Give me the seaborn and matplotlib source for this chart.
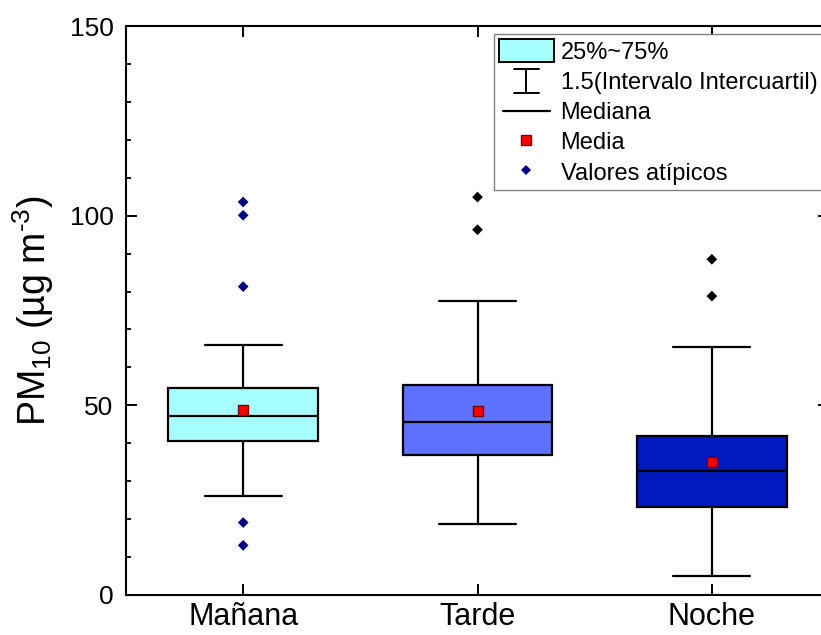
import numpy as np
import pandas as pd
import matplotlib
matplotlib.use('Agg')
import matplotlib.pyplot as plt
import seaborn as sns
from matplotlib.legend_handler import HandlerBase
from matplotlib.lines import Line2D
from matplotlib.patches import Patch
from matplotlib.transforms import IdentityTransform
from matplotlib.ticker import MultipleLocator

# ---- data ----
categories = ['Mañana', 'Tarde', 'Noche']
q1 = [40.5, 36.8, 23.3]
medians = [47.2, 45.6, 32.7]
q3 = [54.6, 55.4, 41.9]
whisk_lo = [26.1, 18.8, 5.1]
whisk_hi = [66.0, 77.6, 65.4]
means = [48.7, 48.5, 35.1]
outliers_manana = [103.6, 100.1, 81.3, 19.1, 13.1]
outliers_tarde = [104.9, 96.3]
outliers_noche = [88.5, 78.8]
box_colors = ['#A8FFFF', '#5F72FF', '#001AC0']
outlier_colors = ['#00007F', '#000000', '#000000']

sns.set_theme(style='ticks')
plt.rcParams['font.family'] = ['Liberation Sans', 'DejaVu Sans']
plt.rcParams['mathtext.fontset'] = 'custom'
plt.rcParams['mathtext.rm'] = 'Liberation Sans'
plt.rcParams['mathtext.it'] = 'Liberation Sans'
plt.rcParams['text.color'] = 'black'
plt.rcParams['axes.labelcolor'] = 'black'
plt.rcParams['xtick.color'] = 'black'
plt.rcParams['ytick.color'] = 'black'

W, H = 821, 635
fig = plt.figure(figsize=(W / 100, H / 100), dpi=100)
L, R, T, B = 126, 829, 26, 595
ax = fig.add_axes([L / W, 1 - B / H, (R - L) / W, (B - T) / H])

pos = list(range(len(categories)))
stats = []
for i, c in enumerate(categories):
    stats.append(dict(label=c, q1=q1[i], med=medians[i], q3=q3[i],
                      whislo=whisk_lo[i], whishi=whisk_hi[i], fliers=[]))
bp = ax.bxp(stats, positions=pos, widths=0.64, capwidths=0.33,
            patch_artist=True, showfliers=False,
            boxprops=dict(linewidth=1.6, edgecolor='black'),
            medianprops=dict(color='black', linewidth=1.6),
            whiskerprops=dict(color='black', linewidth=1.6),
            capprops=dict(color='black', linewidth=1.6))
for patch, col in zip(bp['boxes'], box_colors):
    patch.set_facecolor(col)

# outliers
out_lists = [outliers_manana, outliers_tarde, outliers_noche]
df_out = pd.DataFrame({
    'pos': [pos[i] for i, o in enumerate(out_lists) for _ in o],
    'value': [v for o in out_lists for v in o],
    'grupo': [categories[i] for i, o in enumerate(out_lists) for _ in o],
})
sns.scatterplot(data=df_out, x='pos', y='value', hue='grupo',
                palette=dict(zip(categories, outlier_colors)),
                marker='D', s=30, linewidth=0, legend=False, ax=ax, zorder=4)

# means
df_mean = pd.DataFrame({'pos': pos, 'mean': means})
sns.scatterplot(data=df_mean, x='pos', y='mean', marker='s', s=55,
                color='#FF0000', edgecolor='#7A0000', linewidth=1.0,
                legend=False, ax=ax, zorder=5)

ax.set_xlim(-0.5, 2.5)
ax.set_ylim(0, 150)
ax.set_xticks(pos)
ax.set_xticklabels(categories)
ax.yaxis.set_major_locator(MultipleLocator(50))
ax.yaxis.set_minor_locator(MultipleLocator(10))
ax.set_xlabel('')
ax.set_ylabel(r'PM$_{10}$ (µg m$^{\text{-}3}$)', fontsize=27, labelpad=10, color='black')

for sp in ax.spines.values():
    sp.set_visible(True)
    sp.set_linewidth(1.5)
    sp.set_color('black')
ax.tick_params(axis='both', which='major', direction='in', length=7.6, width=1.4,
               color='black', labelcolor='black', top=True, right=True)
ax.tick_params(axis='y', which='minor', direction='in', length=3.6, width=1.3,
               color='black', left=True, right=True)
ax.tick_params(axis='x', which='minor', bottom=False, top=False)
ax.tick_params(axis='y', which='major', labelsize=19, pad=9)
ax.tick_params(axis='x', which='major', labelsize=22, pad=5)


# ---- legend with custom handles ----
class Proxy:
    def __init__(self, kind):
        self.kind = kind


class ProxyHandler(HandlerBase):
    def create_artists(self, legend, orig_handle, xdescent, ydescent, width,
                       height, fontsize, trans):
        cx = width / 2 - xdescent
        cy = height / 2 - ydescent
        arts = []
        if orig_handle.kind == 'whisker':
            h = height * 1.05
            cw = 18
            arts.append(Line2D([cx, cx], [cy - h / 2, cy + h / 2], color='black', lw=1.4))
            arts.append(Line2D([cx - cw / 2, cx + cw / 2], [cy + h / 2, cy + h / 2], color='black', lw=1.4))
            arts.append(Line2D([cx - cw / 2, cx + cw / 2], [cy - h / 2, cy - h / 2], color='black', lw=1.4))
        elif orig_handle.kind == 'median':
            lw_ = 34
            arts.append(Line2D([cx - lw_ / 2, cx + lw_ / 2], [cy, cy], color='black', lw=1.6))
        for a in arts:
            a.set_transform(trans)
        return arts


handles = [
    Patch(facecolor=box_colors[0], edgecolor='black', linewidth=1.4),
    Proxy('whisker'),
    Proxy('median'),
    Line2D([], [], linestyle='none', marker='s', markersize=7.5,
           markerfacecolor='#FF0000', markeredgecolor='#7A0000', markeredgewidth=1.0),
    Line2D([], [], linestyle='none', marker='D', markersize=4.6,
           markerfacecolor='#00007F', markeredgewidth=0),
]
labels = ['25%~75%', '1.5(Intervalo Intercuartil)', 'Mediana', 'Media', 'Valores atípicos']
x0 = (494 - L) / (R - L)
wbox = (845 - 494) / (R - L)
ytop = (B - 34) / (B - T)
leg = ax.legend(handles, labels, handler_map={Proxy: ProxyHandler()},
                loc='upper left', bbox_to_anchor=(x0, ytop, wbox, 0), mode='expand',
                fontsize=17, frameon=True, fancybox=False, framealpha=1,
                facecolor='white', edgecolor='none', numpoints=1, handlelength=2.3,
                handleheight=1.1, labelspacing=0.25, handletextpad=0.3,
                borderpad=0.22, borderaxespad=0)
for t in leg.get_texts():
    t.set_color('black')

# open border (top, left, bottom) running past the right edge of the figure
fig.canvas.draw()
bb = leg.get_window_extent()
xr = bb.x0 + 420
border = Line2D([xr, bb.x0, bb.x0, xr], [bb.y1, bb.y1, bb.y0, bb.y0],
                transform=IdentityTransform(), color='#808080', linewidth=1.0,
                solid_joinstyle='miter')
fig.add_artist(border)

fig.savefig('out.png', dpi=100)
